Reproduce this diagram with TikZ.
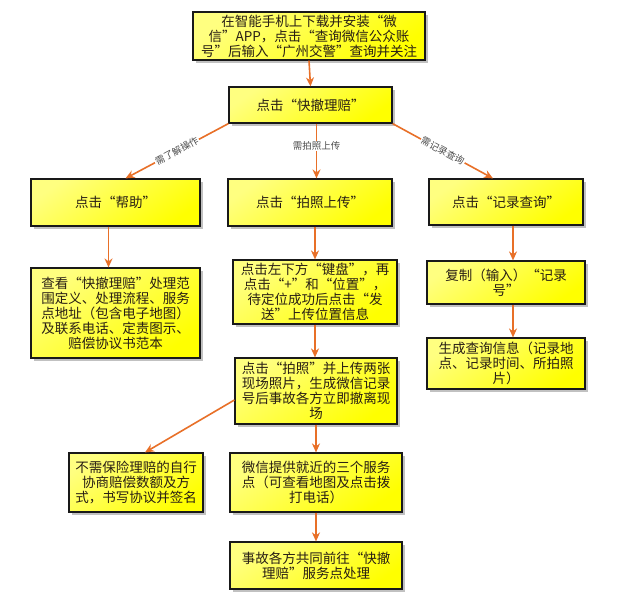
\documentclass[tikz,border=0pt]{standalone}
\usepackage{fontspec}
\setmainfont{Noto Sans CJK SC}
\usetikzlibrary{arrows.meta,shadows,calc}
\definecolor{arr}{RGB}{232,112,40}
\definecolor{txt}{RGB}{40,30,20}
\tikzset{
  fbox/.style={draw=black!90, line width=1.2pt,
    top color=yellow!50!white, bottom color=yellow, shading angle=35,
    drop shadow={shadow xshift=2.5pt, shadow yshift=-2.5pt, fill=black!40, opacity=0.6},
    text=txt, font=\fontsize{13.5}{15}\selectfont, align=center, inner sep=2pt},
  flow/.style={draw=arr, line width=1.6pt, -{Stealth[length=9pt,width=8pt]}},
  lbl/.style={font=\fontsize{9.5}{10}\selectfont, text=black!70, fill=white, inner sep=1pt, sloped}
}
\begin{document}
\begin{tikzpicture}[x=1pt,y=-1pt]
\useasboundingbox (0,0) rectangle (617,600);
\fill[white] (0,0) rectangle (617,600);
\node[fbox, minimum width=232pt, minimum height=48pt] (top) at (309,36)
  {在智能手机上下载并安装“微\\信”APP，点击“查询微信公众账\\号”后输入“广州交警”查询并关注};
\node[fbox, minimum width=163pt, minimum height=36pt] (k) at (310.5,105) {点击“快撤理赔”};
\node[fbox, minimum width=169pt, minimum height=47pt] (help) at (115.5,202.5) {点击“帮助”};
\node[fbox, minimum width=164pt, minimum height=47pt] (photo) at (310,202.5) {点击“拍照上传”};
\node[fbox, minimum width=154pt, minimum height=46pt] (rec) at (506,202) {点击“记录查询”};
\node[fbox, minimum width=169pt, minimum height=90pt] (view) at (115.5,313)
  {查看“快撤理赔”处理范\\围定义、处理流程、服务\\点地址（包含电子地图）\\及联系电话、定责图示、\\赔偿协议书范本};
\node[fbox, minimum width=164pt, minimum height=64pt] (kbd) at (315,292)
  {点击左下方“键盘”，再\\点击“+”和“位置”，\\待定位成功后点击“发\\送”上传位置信息};
\node[fbox, minimum width=158pt, minimum height=43pt] (copy) at (506,282.5)
  {复制（输入）“记录\\号”};
\node[fbox, minimum width=158pt, minimum height=51pt] (gen) at (506,363.5)
  {生成查询信息（记录地\\点、记录时间、所拍照\\片）};
\node[fbox, minimum width=162pt, minimum height=66pt] (shot) at (316,391)
  {点击“拍照”并上传两张\\现场照片，生成微信记录\\号后事故各方立即撤离现\\场};
\node[fbox, minimum width=134pt, minimum height=59pt] (self) at (136,482.5)
  {不需保险理赔的自行\\协商赔偿数额及方\\式，书写协议并签名};
\node[fbox, minimum width=172pt, minimum height=59pt] (svc) at (316,482.5)
  {微信提供就近的三个服务\\点（可查看地图及点击拨\\打电话）};
\node[fbox, minimum width=172pt, minimum height=47pt] (go) at (316,565.5)
  {事故各方共同前往“快撤\\理赔”服务点处理};

\draw[flow] (top.south) -- (k.north);
\draw[flow] (k.south west) -- node[lbl, pos=0.5] {需了解操作} ([xshift=10pt]help.north);
\draw[flow] ([xshift=6pt]k.south) -- node[lbl, pos=0.41, sloped=false] {需拍照上传} ([xshift=6pt]k.south |- photo.north);
\draw[flow] (k.south east) -- node[lbl, pos=0.5] {需记录查询} ([xshift=-13pt]rec.north);
\draw[flow] ([xshift=-7pt]help.south) -- ([xshift=-7pt]help.south |- view.north);
\draw[flow] (kbd.north |- photo.south) -- (kbd.north);
\draw[flow] (kbd.south) -- (kbd.south |- shot.north);
\draw[flow] ([xshift=7pt]rec.south) -- ([xshift=7pt]rec.south |- copy.north);
\draw[flow] ([xshift=7pt]copy.south) -- ([xshift=7pt]copy.south |- gen.north);
\draw[flow] ([yshift=-9pt]shot.west) -- ([xshift=9pt]self.north);
\draw[flow] (shot.south) -- (svc.north);
\draw[flow] (svc.south) -- (go.north);
\end{tikzpicture}
\end{document}
